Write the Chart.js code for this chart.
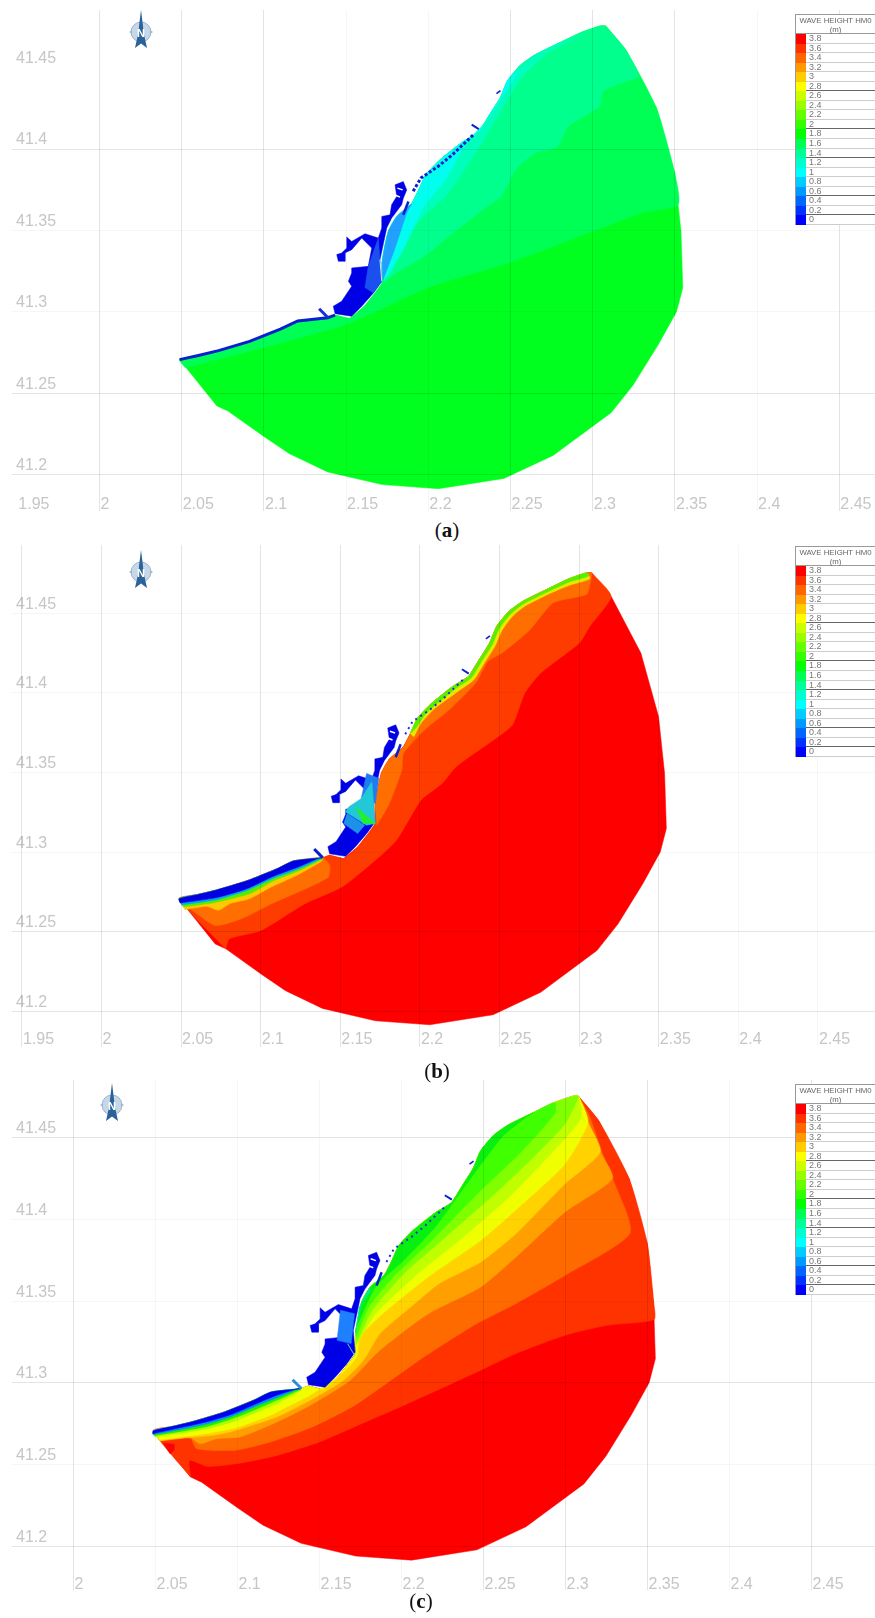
<!DOCTYPE html>
<html>
<head>
<meta charset="utf-8">
<title>Wave height maps</title>
<script src="https://cdn.jsdelivr.net/npm/chart.js@4/dist/chart.umd.min.js"></script>
<style>
    html, body { margin: 0; padding: 0; background: #fff; }
    body { position: relative; width: 875px; height: 1618px; overflow: hidden; font-family: "Liberation Sans", sans-serif; }
    canvas { position: absolute; filter: blur(0.4px); }
    .legend { position: absolute; left: 795px; width: 80px; background: #fff; color: #777; font-size: 9px; filter: blur(0.3px); box-sizing: border-box; border-left: 1px solid #999; border-top: 1px solid #999; }
    .legend .title { height: 19px; text-align: center; font-size: 7.8px; line-height: 9px; padding-top: 1px; box-sizing: border-box; white-space: nowrap; color: #666; border-bottom: 1px solid #999; }
    .legend .row { height: 9.55px; line-height: 9.5px; padding-left: 13px; position: relative; box-sizing: border-box; border-bottom: 1px solid #ccc; }
    .legend .row.dark { border-bottom-color: #666; }
    .legend .swatch { position: absolute; left: 0; top: 0; width: 10px; height: 9.55px; }
    .caption { position: absolute; font-family: "Liberation Serif", serif; font-size: 21px; transform: translate(-50%, -50%); color: #111; }
    .compass { position: absolute; }
</style>
</head>
<body>
<script>
// wave height scale
const legendLabels = ['3.8','3.6','3.4','3.2','3','2.8','2.6','2.4','2.2','2','1.8','1.6','1.4','1.2','1','0.8','0.6','0.4','0.2','0'];
const legendColors = ['#ff0000','#ff3300','#ff6600','#ff9900','#ffcc00','#ffff00','#ccff00','#99ff00','#66ff00','#33ff00','#00ff00','#00ff55','#00ff99','#00ffcc','#00ffff','#00ccff','#0099ff','#0066ff','#0033ff','#0000ff'];
const legendDarkRows = ['2.8','2','1.4','0.6','0.2'];

const latTicks = [41.2, 41.25, 41.3, 41.35, 41.4, 41.45];
const lonTicks = [1.95, 2, 2.05, 2.1, 2.15, 2.2, 2.25, 2.3, 2.35, 2.4, 2.45];
const lonTicksC = [2, 2.05, 2.1, 2.15, 2.2, 2.25, 2.3, 2.35, 2.4, 2.45];

// model domain: open boundary from west tip round to NE tip
const outerArc = [[2.0487,41.2708],[2.0714,41.2424],[2.0781,41.2393],[2.1002,41.2235],[2.1156,41.2130],[2.1388,41.2019],[2.1720,41.1941],[2.2062,41.1916],[2.2460,41.1979],[2.2759,41.2120],[2.3112,41.2382],[2.3245,41.2550],[2.3400,41.2802],[2.3510,41.3002],[2.3548,41.3149],[2.3537,41.3495],[2.3499,41.3852],[2.3388,41.4251],[2.3201,41.4608],[2.3079,41.4755]];
// coastline from NE tip back to west tip
const coast = [[2.3079,41.4755],[2.3046,41.4755],[2.2935,41.4717],[2.2803,41.4654],[2.2648,41.4577],[2.2560,41.4514],[2.2482,41.4419],[2.2438,41.4314],[2.2372,41.4209],[2.2306,41.4104],[2.2206,41.4041],[2.2074,41.3936],[2.1985,41.3842],[2.1941,41.3747],[2.1897,41.3663],[2.1808,41.3585],[2.1757,41.3494],[2.1720,41.3306],[2.1720,41.3180],[2.1676,41.3117],[2.1609,41.3033],[2.1521,41.2960],[2.1433,41.2981],[2.1388,41.2965],[2.1206,41.2945],[2.1100,41.2895],[2.0913,41.2820],[2.0724,41.2763],[2.0608,41.2735],[2.0487,41.2708]];
const harbour = [[2.1422,41.3035],[2.1473,41.3066],[2.1534,41.3158],[2.1514,41.3188],[2.1534,41.3239],[2.1534,41.3270],[2.1635,41.3280],[2.1656,41.3392],[2.1595,41.3454],[2.1534,41.3382],[2.1493,41.3362],[2.1493,41.3311],[2.1453,41.3311],[2.1443,41.3352],[2.1473,41.3362],[2.1504,41.3392],[2.1504,41.3460],[2.1534,41.3433],[2.1615,41.3480],[2.1696,41.3454],[2.1717,41.3515],[2.1717,41.3586],[2.1767,41.3596],[2.1777,41.3658],[2.1808,41.3709],[2.1798,41.3780],[2.1848,41.3800],[2.1869,41.3749],[2.1848,41.3698],[2.1838,41.3658],[2.1777,41.3576],[2.1747,41.3515],[2.1706,41.3321],[2.1717,41.3188],[2.1666,41.3117],[2.1595,41.3035],[2.1534,41.2974],[2.1433,41.2990]];
const breakwater = [[2.1336,41.3020],[2.1389,41.2966]];
const islets = [[2.1908,41.3741],[2.1955,41.3822],[2.2061,41.3894],[2.2147,41.3965],[2.2232,41.4047],[2.2275,41.4088]];
const pier = [[2.2264,41.4149],[2.2307,41.4122]];
const rock = [[2.2424,41.4353],[2.2430,41.4345]];
const mole = [[2.1848,41.3596],[2.1879,41.3678]];
const combGapA = [[2.1812,41.3760],[2.1844,41.3749]];
const combGapB = [[2.1794,41.3719],[2.1828,41.3705]];

// panel (a) contour lines
const aLine1 = [[2.0521,41.2658],[2.0952,41.2770],[2.1496,41.2923],[2.2019,41.3158],[2.2488,41.3301],[2.3000,41.3495],[2.3299,41.3608],[2.3520,41.3660]];
const aLine2 = [[2.1720,41.3179],[2.1805,41.3240],[2.1976,41.3342],[2.2125,41.3465],[2.2360,41.3649],[2.2445,41.3710],[2.2531,41.3873],[2.2648,41.3975],[2.2787,41.4016],[2.2851,41.4139],[2.3043,41.4262],[2.3064,41.4353],[2.3203,41.4415],[2.3280,41.4445]];
const aLine3 = [[2.1763,41.3220],[2.1933,41.3547],[2.2104,41.3710],[2.2275,41.3955],[2.2445,41.4241],[2.2573,41.4445],[2.2723,41.4588],[2.2936,41.4701]];
const aLine4 = [[2.1731,41.3189],[2.1848,41.3383],[2.1976,41.3649],[2.2104,41.3812],[2.2232,41.4037],[2.2360,41.4180],[2.2467,41.4343],[2.2552,41.4486]];
const aLine5 = [[2.1724,41.3195],[2.1795,41.3383],[2.1869,41.3608]];
const aInnerHarbour = [[2.1635,41.3280],[2.1696,41.3454],[2.1706,41.3321],[2.1717,41.3188],[2.1666,41.3117],[2.1614,41.3150]];

// panel (b) contour lines
const bLine1 = [[2.0781,41.2393],[2.0803,41.2456],[2.1002,41.2508],[2.1278,41.2676],[2.1510,41.2781],[2.1720,41.2949],[2.1853,41.3075],[2.2007,41.3327],[2.2140,41.3432],[2.2228,41.3537],[2.2493,41.3726],[2.2582,41.3800],[2.2659,41.3999],[2.2759,41.4125],[2.3002,41.4314],[2.3068,41.4419],[2.3201,41.4608]];
const bLine2w = [[2.0527,41.2666],[2.0714,41.2540],[2.0880,41.2582],[2.1068,41.2676],[2.1422,41.2840],[2.1433,41.2918]];
const bLine2n = [[2.1731,41.3170],[2.1808,41.3306],[2.1886,41.3516],[2.1897,41.3621],[2.2029,41.3768],[2.2184,41.3894],[2.2350,41.4062],[2.2427,41.4199],[2.2516,41.4251],[2.2692,41.4398],[2.2836,41.4566],[2.3046,41.4619],[2.3068,41.4682]];
const bYellowN = [[2.1963,41.3726],[2.2007,41.3810],[2.2096,41.3905],[2.2239,41.4010],[2.2339,41.4083],[2.2405,41.4188],[2.2471,41.4293],[2.2516,41.4394],[2.2582,41.4482],[2.2659,41.4545],[2.2803,41.4619],[2.2935,41.4675],[2.3068,41.4717]];
const bGreenN = [[2.1975,41.3780],[2.2042,41.3875],[2.2222,41.4026],[2.2322,41.4094],[2.2388,41.4199],[2.2455,41.4304],[2.2499,41.4406],[2.2571,41.4498],[2.2653,41.4561],[2.2803,41.4636],[2.2935,41.4696],[2.3060,41.4735]];
const bYellowW = [[2.0525,41.2639],[2.0661,41.2660],[2.0735,41.2635],[2.0808,41.2677],[2.0934,41.2709],[2.1060,41.2778],[2.1227,41.2855],[2.1384,41.2945]];
const bGreenW = [[2.0515,41.2656],[2.0724,41.2686],[2.0934,41.2740],[2.1081,41.2820],[2.1248,41.2887],[2.1384,41.2954]];
const bCyanW = [[2.0504,41.2669],[2.0724,41.2702],[2.0913,41.2759],[2.1081,41.2836],[2.1248,41.2899],[2.1374,41.2958]];
const bBlueW = [[2.0494,41.2681],[2.0724,41.2715],[2.0913,41.2771],[2.1081,41.2849],[2.1248,41.2912],[2.1363,41.2962]];
const bHarbourMid = [[2.1665,41.3495],[2.1742,41.3464],[2.1720,41.3306],[2.1632,41.3338]];
const bHarbourBlotch = [[2.1521,41.3180],[2.1543,41.3243],[2.1654,41.3170],[2.1609,41.3117]];
const bHarbourCyan = [[2.1632,41.3338],[2.1698,41.3443],[2.1720,41.3180],[2.1665,41.3170],[2.1532,41.3254],[2.1554,41.3285]];
const bHarbourGreen = [[2.1598,41.3285],[2.1720,41.3180],[2.1643,41.3180]];

// panel (c) contour lines
const cLine36 = [[2.0714,41.2424],[2.0708,41.2527],[2.0815,41.2490],[2.0997,41.2506],[2.1243,41.2557],[2.1500,41.2639],[2.1757,41.2751],[2.1992,41.2853],[2.2484,41.3078],[2.2698,41.3180],[2.2998,41.3292],[2.3255,41.3353],[2.3540,41.3388]];
const cLine34 = [[2.0719,41.2659],[2.0751,41.2598],[2.0986,41.2588],[2.1200,41.2639],[2.1457,41.2731],[2.1714,41.2863],[2.1992,41.3057],[2.2121,41.3149],[2.2442,41.3353],[2.2698,41.3486],[2.2998,41.3659],[2.3394,41.3918],[2.3287,41.4251],[2.3223,41.4414],[2.3148,41.4628]];
const cLine32 = [[2.0710,41.2670],[2.0772,41.2629],[2.0873,41.2659],[2.1014,41.2670],[2.1218,41.2751],[2.1442,41.2863],[2.1686,41.3016],[2.1868,41.3200],[2.2163,41.3424],[2.2484,41.3588],[2.2698,41.3771],[2.2998,41.4047],[2.3287,41.4251],[2.3212,41.4414],[2.3137,41.4597]];
const cLine30 = [[2.0527,41.2645],[2.0690,41.2665],[2.0852,41.2680],[2.0954,41.2700],[2.1117,41.2750],[2.1258,41.2800],[2.1442,41.2894],[2.1646,41.3016],[2.1768,41.3139],[2.1868,41.3302],[2.2056,41.3465],[2.2228,41.3608],[2.2484,41.3741],[2.2698,41.3914],[2.2998,41.4220],[2.3212,41.4414],[2.3137,41.4597]];
const cLine28 = [[2.0527,41.2653],[2.0690,41.2674],[2.0832,41.2694],[2.0995,41.2727],[2.1200,41.2802],[2.1299,41.2853],[2.1442,41.2925],[2.1624,41.3047],[2.1727,41.3159],[2.1746,41.3282],[2.1885,41.3424],[2.2163,41.3649],[2.2484,41.3873],[2.2741,41.4098],[2.2998,41.4342],[2.3137,41.4597]];
const cLine26 = [[2.1714,41.3215],[2.1842,41.3424],[2.2099,41.3669],[2.2377,41.3894],[2.2656,41.4138],[2.2912,41.4404],[2.3094,41.4618]];
const cLine24 = [[2.1725,41.3241],[2.1821,41.3445],[2.2014,41.3669],[2.2270,41.3894],[2.2570,41.4159],[2.2805,41.4383],[2.2998,41.4587]];
const cLine22 = [[2.1725,41.3282],[2.1800,41.3465],[2.1949,41.3649],[2.2206,41.3894],[2.2484,41.4179],[2.2720,41.4404],[2.2934,41.4648]];
const cLine20 = [[2.1725,41.3343],[2.1842,41.3588],[2.2014,41.3751],[2.2206,41.3955],[2.2399,41.4220],[2.2613,41.4506],[2.2763,41.4628]];
const cEdgeTeal = [[2.1720,41.3306],[2.1742,41.3465],[2.1810,41.3560]];
const cLimeW = [[2.0496,41.2670],[2.0690,41.2698],[2.0832,41.2723],[2.0974,41.2763],[2.1117,41.2821],[2.1239,41.2874],[2.1381,41.2951]];
const cGreenW = [[2.0490,41.2678],[2.0690,41.2710],[2.0832,41.2739],[2.0974,41.2784],[2.1117,41.2841],[2.1239,41.2894],[2.1381,41.2959]];
const cCyanW = [[2.0486,41.2684],[2.0690,41.2723],[2.0832,41.2755],[2.0974,41.2800],[2.1117,41.2861],[2.1239,41.2910],[2.1371,41.2963]];
const cBlueW = [[2.0482,41.2690],[2.0690,41.2735],[2.0832,41.2768],[2.0974,41.2812],[2.1117,41.2874],[2.1239,41.2925],[2.1371,41.2967]];
const cRedPatch = [[2.0548,41.2633],[2.0612,41.2625],[2.0612,41.2588],[2.0590,41.2565]];
const cHarbourLight = [[2.1628,41.3445],[2.1714,41.3424],[2.1693,41.3241],[2.1607,41.3261]];
const cHarbourLine = [[2.1671,41.3241],[2.1714,41.3169]];

// contour line + rest of open boundary + piece of coast = closed zone
function zone(line, arcFrom, coastFrom, coastTo) {
    return [...line, ...outerArc.slice(arcFrom), ...coast.slice(coastFrom, coastTo)];
}
const domain = [...outerArc, ...coast];

const panels = [
    {
        box: { left: 4, top: 10, width: 871, height: 501 },
        lonRange: [1.94678, 2.47172], latRange: [41.17791, 41.48528], labelLat: 41.1877,
        lonTicks: lonTicks, hiddenLon: [1.95], faintLon: [2.15, 2.2, 2.4], hiddenLat: [41.45], faintLat: [41.3, 41.35],
        zones: [
            [domain, '#00ff1e'],
            [zone(aLine1, 16, 0), '#00ff55'],
            [zone(aLine2, 18, 0, 18), '#00ff8c'],
            [zone(aLine3, 20, 3, 18), '#00ffbb'],
            [zone(aLine4, 20, 6, 18), '#00ffee'],
            [zone(aLine5, 20, 14, 18), '#22a0ff'],
            [harbour, '#0000e6'],
            [aInnerHarbour, '#1a50ee']
        ],
        lines: [
            [coast.slice(22), '#0a1fd0', 3],
            [breakwater, '#1030d8', 3],
            [islets, '#0a1fd0', 3, [3, 2]],
            [pier, '#0a1fd0', 2],
            [rock, '#0a1fd0', 5],
            [mole, '#0a1fd0', 2.5],
            [combGapA, '#ffffff', 1.5],
            [combGapB, '#ffffff', 1.5],
            [aInnerHarbour.slice(2, 4), '#d0e8ff', 1]
        ]
    },
    {
        box: { left: 4, top: 545, width: 871, height: 502 },
        lonRange: [1.94378, 2.48587], latRange: [41.17764, 41.49296], labelLat: 41.1886,
        lonTicks: lonTicks, hiddenLon: [], faintLon: [2.4, 2.45], hiddenLat: [], faintLat: [41.45, 41.4, 41.35, 41.3],
        zones: [
            [domain, '#ff0000'],
            [zone(bLine1, 19, 0), '#ff3c00'],
            [zone(bLine2w, 20, 23), '#ff6e00'],
            [zone(bLine2n, 20, 0, 18), '#ff6e00'],
            [zone(bYellowN, 20, 1, 14), '#e8e800'],
            [zone(bGreenN, 20, 1, 14), '#55f000'],
            [zone(bYellowW, 20, 23), '#ffc800'],
            [zone(bGreenW, 20, 23), '#55ee00'],
            [zone(bCyanW, 20, 23), '#00a8f0'],
            [zone(bBlueW, 20, 23), '#0000e0'],
            [harbour, '#0000e6'],
            [bHarbourMid, '#1e7cf0'],
            [bHarbourBlotch, '#1e90e8'],
            [bHarbourCyan, '#22c8d8'],
            [bHarbourGreen, '#22ee33']
        ],
        lines: [
            [breakwater, '#0a1fd0', 3],
            [islets, '#2030d0', 2, [2, 4]],
            [pier, '#0a1fd0', 2],
            [rock, '#0a1fd0', 5],
            [mole, '#0a1fd0', 2.5],
            [combGapA, '#ffffff', 1.5],
            [combGapB, '#ffffff', 1.5]
        ]
    },
    {
        box: { left: 4, top: 1080, width: 871, height: 510 },
        lonRange: [1.9625, 2.48872], latRange: [41.17332, 41.48543], labelLat: 41.1827,
        lonTicks: lonTicksC, hiddenLon: [], faintLon: [2.05, 2.1, 2.15, 2.2, 2.4], hiddenLat: [], faintLat: [41.4, 41.35, 41.25],
        zones: [
            [domain, '#ff0000'],
            [zone(cLine36, 15, 0), '#ff3300'],
            [cRedPatch, '#ff0000'],
            [zone(cLine34, 20, 0), '#ff6a00'],
            [zone(cLine32, 20, 0), '#ffa000'],
            [zone(cLine30, 20, 0), '#ffd200'],
            [zone(cLine28, 20, 0), '#f0ff00'],
            [zone(cLine26, 20, 0, 18), '#bfff00'],
            [zone(cLine24, 20, 0, 18), '#80ff00'],
            [zone(cLine22, 20, 2, 18), '#40ff00'],
            [zone(cLine20, 20, 3, 18), '#08f010'],
            [zone(cEdgeTeal, 20, 15, 18), '#00e8a0'],
            [zone(cLimeW, 20, 23), '#aaff00'],
            [zone(cGreenW, 20, 23), '#22ee00'],
            [zone(cCyanW, 20, 23), '#0090ff'],
            [zone(cBlueW, 20, 23), '#0000ee'],
            [harbour, '#0000e6'],
            [cHarbourLight, '#1e80ff']
        ],
        lines: [
            [cHarbourLine, '#40e0d0', 1],
            [breakwater, '#2a90e0', 3],
            [islets, '#2030d0', 2, [2, 4]],
            [pier, '#0a1fd0', 2],
            [rock, '#0a1fd0', 5],
            [mole, '#0a1fd0', 2.5],
            [combGapA, '#ffffff', 1.5],
            [combGapB, '#ffffff', 1.5]
        ]
    }
];

function toXY(points) {
    return points.map(p => ({ x: p[0], y: p[1] }));
}

function buildDatasets(panel) {
    const sets = [];
    panel.zones.forEach(z => {
        // contours are soft in the picture, the domain and harbour edges are not
        const soft = z[0] !== domain && z[0] !== harbour && z[0].length > 6;
        sets.push({
            data: toXY([...z[0], z[0][0]]),
            showLine: true, fill: 'shape', backgroundColor: z[1],
            borderColor: z[1], borderWidth: 0.5, pointRadius: 0, tension: soft ? 0.2 : 0
        });
    });
    panel.lines.forEach(l => {
        sets.push({
            data: toXY(l[0]),
            showLine: true, fill: false, borderColor: l[1], borderWidth: l[2],
            borderDash: l[3] || [], pointRadius: 0, tension: 0
        });
    });
    // first dataset is painted last by default, so flip it
    sets.forEach((s, i) => { s.order = sets.length - i; });
    return sets;
}

function gridColor(hidden, faint) {
    return ctx => {
        const v = ctx.tick ? ctx.tick.value : null;
        if (hidden.includes(v)) return 'rgba(0,0,0,0)';
        if (faint.includes(v)) return 'rgba(0,0,0,0.035)';
        return 'rgba(0,0,0,0.105)';
    };
}

function setTicks(values) {
    return scale => { scale.ticks = values.map(v => ({ value: v })); };
}

// labels sit inside the plot, so the axes must not reserve room for them
function noAxisPadding(scale) {
    scale.paddingTop = 0;
    scale.paddingBottom = 0;
    scale.paddingLeft = 0;
    scale.paddingRight = 0;
}

panels.forEach(panel => {
    const canvas = document.createElement('canvas');
    canvas.width = panel.box.width;
    canvas.height = panel.box.height;
    canvas.style.left = panel.box.left + 'px';
    canvas.style.top = panel.box.top + 'px';
    document.body.appendChild(canvas);

    new Chart(canvas.getContext('2d'), {
        type: 'scatter',
        data: { datasets: buildDatasets(panel) },
        options: {
            responsive: false,
            animation: false,
            layout: { padding: 0, autoPadding: false },
            plugins: { legend: { display: false }, tooltip: { enabled: false } },
            scales: {
                x: {
                    type: 'linear',
                    min: panel.lonRange[0], max: panel.lonRange[1],
                    position: { y: panel.labelLat },
                    afterBuildTicks: setTicks(panel.lonTicks),
                    afterFit: noAxisPadding,
                    border: { display: false },
                    grid: { z: 1, drawTicks: false, color: gridColor(panel.hiddenLon, panel.faintLon) },
                    ticks: {
                        align: 'start', labelOffset: 1, padding: 0, autoSkip: false, maxRotation: 0,
                        color: '#c6c6c6', font: { family: 'Liberation Sans', size: 16 },
                        callback: v => String(v)
                    }
                },
                y: {
                    type: 'linear',
                    min: panel.latRange[0], max: panel.latRange[1],
                    afterBuildTicks: setTicks(latTicks),
                    afterFit: noAxisPadding,
                    border: { display: false },
                    grid: { z: 1, drawTicks: false, color: gridColor(panel.hiddenLat, panel.faintLat) },
                    ticks: {
                        mirror: true, padding: 4, labelOffset: -9, autoSkip: false,
                        color: '#c6c6c6', font: { family: 'Liberation Sans', size: 16 },
                        callback: v => String(v)
                    }
                }
            }
        }
    });
});

// colour scale boxes
[14, 546, 1084].forEach(top => {
    const box = document.createElement('div');
    box.className = 'legend';
    box.style.top = top + 'px';
    let html = '<div class="title">WAVE HEIGHT HM0<br>(m)</div>';
    legendLabels.forEach((label, i) => {
        const dark = legendDarkRows.includes(label) ? ' dark' : '';
        html += '<div class="row' + dark + '"><span class="swatch" style="background:' + legendColors[i] + '"></span>' + label + '</div>';
    });
    box.innerHTML = html;
    document.body.appendChild(box);
});

// north arrows
[[128.5, 10], [129, 550], [100, 1083]].forEach(pos => {
    const holder = document.createElement('div');
    holder.className = 'compass';
    holder.style.left = pos[0] + 'px';
    holder.style.top = pos[1] + 'px';
    holder.innerHTML = '<svg width="24" height="40" viewBox="0 0 24 40">' +
        '<circle cx="12" cy="22" r="10" fill="#c6d7e8" stroke="#9db6cf"/>' +
        '<path d="M0.5 22H3M21 22H23.5" stroke="#7f9db8"/>' +
        '<path d="M12 0L14 16L14.5 22L18 38L12 33.5L6 38L9.5 22L10 16Z" fill="#2a6299"/>' +
        '<text x="12" y="27" text-anchor="middle" font-family="Liberation Sans" font-weight="bold" font-size="11" fill="#fff">N</text>' +
        '</svg>';
    document.body.appendChild(holder);
});

// panel captions
[['a', 447, 530], ['b', 437, 1071], ['c', 421, 1601]].forEach(c => {
    const cap = document.createElement('div');
    cap.className = 'caption';
    cap.style.left = c[1] + 'px';
    cap.style.top = c[2] + 'px';
    cap.innerHTML = '(<b>' + c[0] + '</b>)';
    document.body.appendChild(cap);
});
</script>
</body>
</html>
